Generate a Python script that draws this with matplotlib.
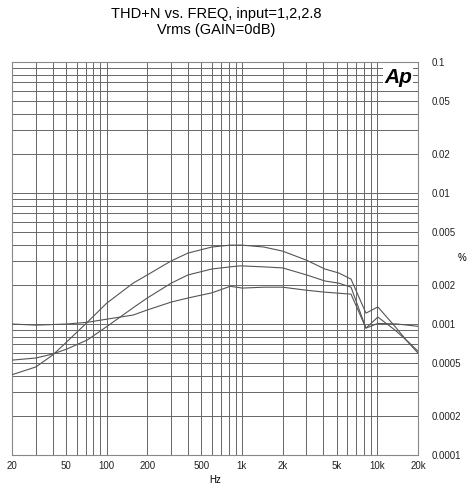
import matplotlib
matplotlib.use("Agg")
import matplotlib.pyplot as plt
from matplotlib.ticker import FixedLocator, LogLocator, NullFormatter

plt.rcParams['font.family'] = ['Liberation Sans', 'DejaVu Sans']

# Curve data (Hz, %)
freq_top = [20, 30, 40, 50, 72, 100, 157, 200, 300, 400, 600, 820, 1000, 1450, 2000,
            3000, 4100, 5200, 6400, 8250, 10100, 13500, 17000, 20000]
thd_top = [4.1e-4, 4.7e-4, 5.8e-4, 7.2e-4, 1.03e-3, 1.44e-3, 2.05e-3, 2.37e-3, 3.03e-3,
           3.48e-3, 3.87e-3, 4.0e-3, 4.0e-3, 3.87e-3, 3.6e-3, 3.07e-3, 2.63e-3, 2.45e-3,
           2.2e-3, 1.21e-3, 1.35e-3, 9.6e-4, 7.2e-4, 6.0e-4]

freq_mid = [20, 30, 40, 51, 72, 101, 157, 200, 300, 400, 600, 820, 970, 1450, 2000,
            3000, 4100, 5200, 6400, 8250, 10100, 13500, 17200, 20000]
thd_mid = [5.3e-4, 5.5e-4, 5.9e-4, 6.45e-4, 7.55e-4, 9.6e-4, 1.33e-3, 1.58e-3, 2.05e-3,
           2.37e-3, 2.63e-3, 2.73e-3, 2.78e-3, 2.73e-3, 2.68e-3, 2.37e-3, 2.13e-3,
           2.05e-3, 1.91e-3, 9.3e-4, 1.13e-3, 9.0e-4, 7.2e-4, 6.2e-4]

freq_low = [20, 30, 51, 72, 101, 157, 200, 300, 400, 600, 820, 1010, 1450, 2000, 3000,
            4100, 6400, 8250, 10100, 14000, 20000]
thd_low = [1.0e-3, 9.8e-4, 1.0e-3, 1.03e-3, 1.09e-3, 1.17e-3, 1.28e-3, 1.47e-3, 1.58e-3,
           1.73e-3, 1.94e-3, 1.88e-3, 1.91e-3, 1.91e-3, 1.81e-3, 1.75e-3, 1.69e-3,
           9.3e-4, 1.01e-3, 1.0e-3, 9.6e-4]

x_ticks = [20, 50, 100, 200, 500, 1000, 2000, 5000, 10000, 20000]
x_labels = ["20", "50", "100", "200", "500", "1k", "2k", "5k", "10k", "20k"]
y_ticks = [0.1, 0.05, 0.02, 0.01, 0.005, 0.002, 0.001, 0.0005, 0.0002, 0.0001]
y_labels = ["0.1", "0.05", "0.02", "0.01", "0.005", "0.002", "0.001", "0.0005", "0.0002", "0.0001"]

fig = plt.figure(figsize=(4.68, 4.86), dpi=100)
ax = fig.add_axes([12/468, 31/486, 406/468, 393/486])
ax.set_xscale('log')
ax.set_yscale('log')
ax.set_xlim(20, 20000)
ax.set_ylim(0.0001, 0.1)

line_col = '#555555'
for fx, fy in [(freq_top, thd_top), (freq_mid, thd_mid), (freq_low, thd_low)]:
    ax.plot(fx, fy, color=line_col, lw=0.8, zorder=3)

ax.xaxis.set_major_locator(FixedLocator(x_ticks))
ax.set_xticklabels(x_labels)
ax.xaxis.set_minor_locator(LogLocator(base=10, subs=range(1, 10), numticks=20))
ax.xaxis.set_minor_formatter(NullFormatter())
ax.yaxis.set_major_locator(FixedLocator(y_ticks))
ax.set_yticklabels(y_labels)
ax.yaxis.set_minor_locator(LogLocator(base=10, subs=range(1, 10), numticks=20))
ax.yaxis.set_minor_formatter(NullFormatter())
ax.yaxis.tick_right()

ax.tick_params(which='both', length=0, labelsize=7, colors='#222222')
ax.tick_params(axis='y', pad=10)
ax.tick_params(axis='x', pad=4)

grid_col = '#666666'
ax.grid(True, which='both', color=grid_col, lw=0.7)
for s in ax.spines.values():
    s.set_color('#888888')
    s.set_linewidth(0.8)

ax.set_xlabel('Hz', fontsize=7, labelpad=3)
fig.text(462/468, 1 - 258/486, '%', fontsize=7, ha='center', va='center')

fig.text(216/468, 1 - 14/486, 'THD+N vs. FREQ, input=1,2,2.8', fontsize=10.5, ha='center', va='center')
fig.text(216/468, 1 - 30/486, 'Vrms (GAIN=0dB)', fontsize=10.5, ha='center', va='center')

ax.text(0.985, 0.985, 'Ap', transform=ax.transAxes, fontsize=15, fontweight='bold',
        fontstyle='italic', ha='right', va='top', zorder=5,
        bbox=dict(facecolor='white', edgecolor='none', pad=0.5))

fig.savefig('out.png', dpi=100)
